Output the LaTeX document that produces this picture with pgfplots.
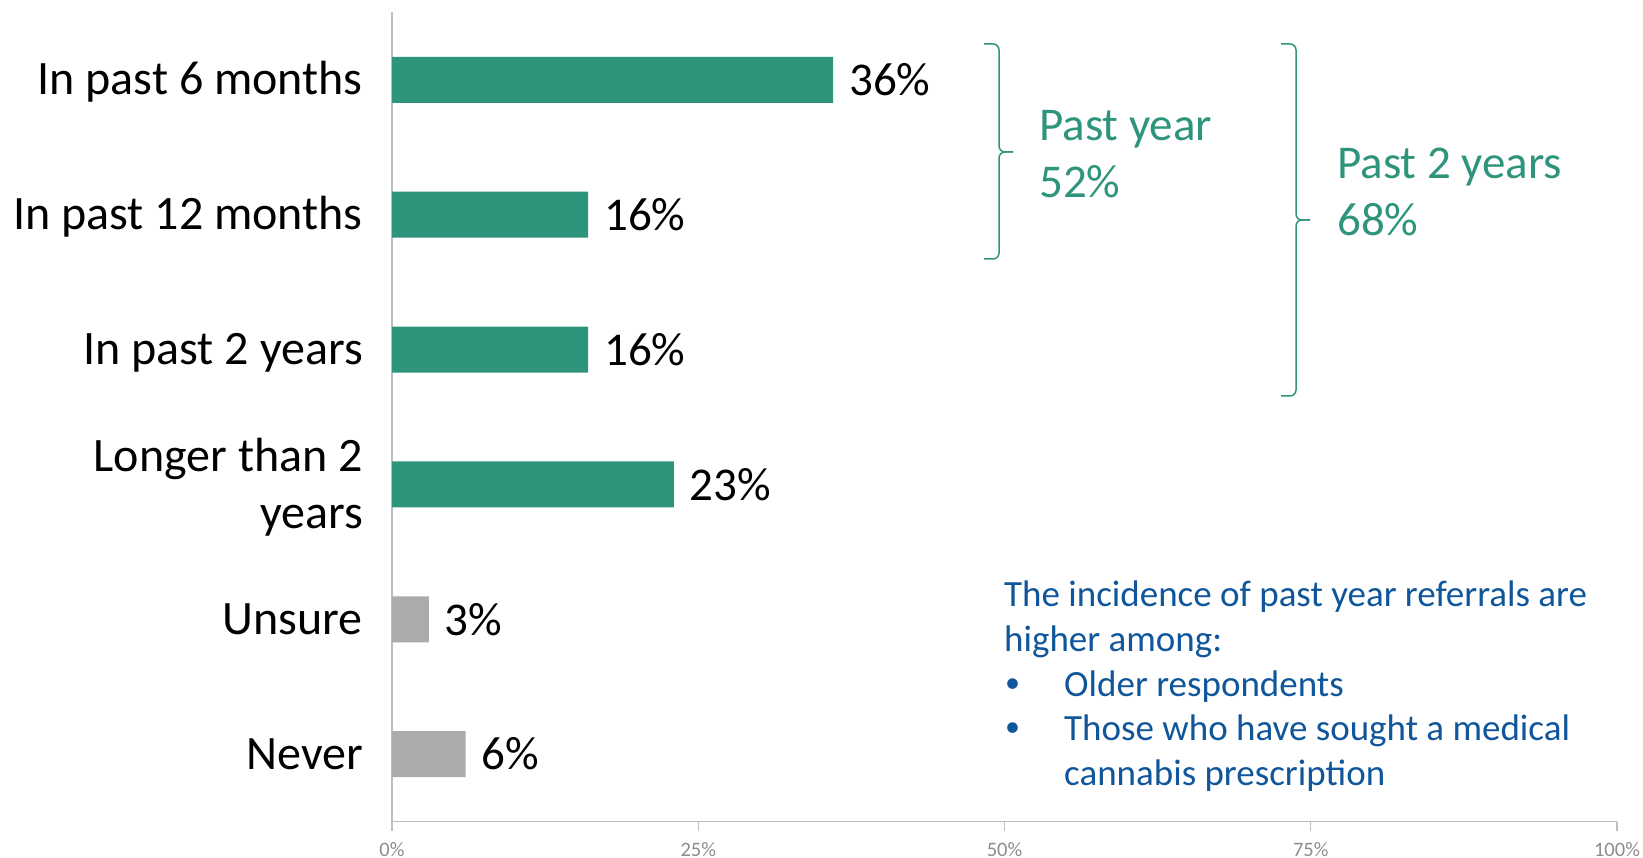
\documentclass[border=0pt]{standalone}
\usepackage{pgfplots}
\pgfplotsset{compat=1.18}
\usepackage{fontspec}
\setmainfont{Carlito}
\definecolor{barg}{RGB}{46,149,124}
\definecolor{bargray}{RGB}{171,171,171}
\definecolor{txtblue}{RGB}{16,86,155}
\definecolor{axgray}{RGB}{190,190,190}
\definecolor{tickgray}{RGB}{140,140,140}
\newcommand{\bigf}{\fontsize{47}{57}\selectfont}
\newcommand{\labf}{\fontsize{48}{57}\selectfont}
\newcommand{\midf}{\fontsize{37}{45}\selectfont}
\begin{document}
\begin{tikzpicture}[x=1pt,y=1pt]
\useasboundingbox (0,0) rectangle (1643,858);
\begin{axis}[
  at={(392pt,36.5pt)}, anchor=south west,
  width=1225pt, height=809pt, scale only axis,
  xmin=0, xmax=100, ymin=-0.5, ymax=5.5, y dir=reverse,
  xbar, bar width=46pt, bar shift=0pt,
  axis x line=bottom, axis y line=left,
  axis line style={draw=axgray, line width=1.5pt, -},
  xtick={0,25,50,75,100}, xticklabels={0\%,25\%,50\%,75\%,100\%},
  xticklabel style={font=\fontsize{20.5}{24}\selectfont, text=tickgray, yshift=-8pt},
  x tick style={draw=axgray, line width=1.2pt},
  tick align=outside, major tick length=9pt,
  ytick={0,...,5},
  yticklabels={In past 6 months,In past 12 months,In past 2 years,{\raisebox{5pt}{\begin{tabular}[c]{@{}r@{}}Longer than 2\\years\end{tabular}}},Unsure,Never},
  y tick style={draw=none},
  yticklabel style={font=\labf, anchor=base east, yshift=-15pt, inner sep=0pt, xshift=-20pt},
  point meta=x,
  nodes near coords={\pgfmathprintnumber{\pgfplotspointmeta}\%},
  nodes near coords style={font=\bigf, anchor=west, inner sep=0pt, xshift=16pt, text=black, /pgf/number format/assume math mode=true},
]
\addplot[fill=barg, draw=none] coordinates {(36,0) (16,1) (16,2) (23,3)};
\addplot[fill=bargray, draw=none] coordinates {(3,4) (6,5)};
\end{axis}
\begin{scope}[shift={(0,858)}, yscale=-1]
\draw[barg, line width=1.5pt, rounded corners=6pt] (984,44) -- (999,44) -- (999,152) -- (1013,152);
\draw[barg, line width=1.5pt, rounded corners=6pt] (1013,152) -- (999,152) -- (999,259) -- (984,259);
\draw[barg, line width=1.5pt, rounded corners=6pt] (1281,44) -- (1296,44) -- (1296,220) -- (1310,220);
\draw[barg, line width=1.5pt, rounded corners=6pt] (1310,220) -- (1296,220) -- (1296,396) -- (1281,396);
\node[anchor=base west, inner sep=0pt, text=barg, font=\bigf] at (1039,140.5) {Past year};
\node[anchor=base west, inner sep=0pt, text=barg, font=\bigf] at (1039,197.5) {52\%};
\node[anchor=base west, inner sep=0pt, text=barg, font=\bigf] at (1337,179) {Past 2 years};
\node[anchor=base west, inner sep=0pt, text=barg, font=\bigf] at (1337,235.5) {68\%};
\node[anchor=base west, inner sep=0pt, text=txtblue, font=\midf] at (1004,607) {The incidence of past year referrals are};
\node[anchor=base west, inner sep=0pt, text=txtblue, font=\midf] at (1004,652) {higher among:};
\node[anchor=base west, inner sep=0pt, text=txtblue, font=\fontsize{30}{36}\selectfont] at (1005,693) {•};
\node[anchor=base west, inner sep=0pt, text=txtblue, font=\midf] at (1064,697) {Older respondents};
\node[anchor=base west, inner sep=0pt, text=txtblue, font=\fontsize{30}{36}\selectfont] at (1005,737) {•};
\node[anchor=base west, inner sep=0pt, text=txtblue, font=\midf] at (1064,741) {Those who have sought a medical};
\node[anchor=base west, inner sep=0pt, text=txtblue, font=\midf] at (1064,786) {cannabis prescription};
\end{scope}
\end{tikzpicture}
\end{document}
